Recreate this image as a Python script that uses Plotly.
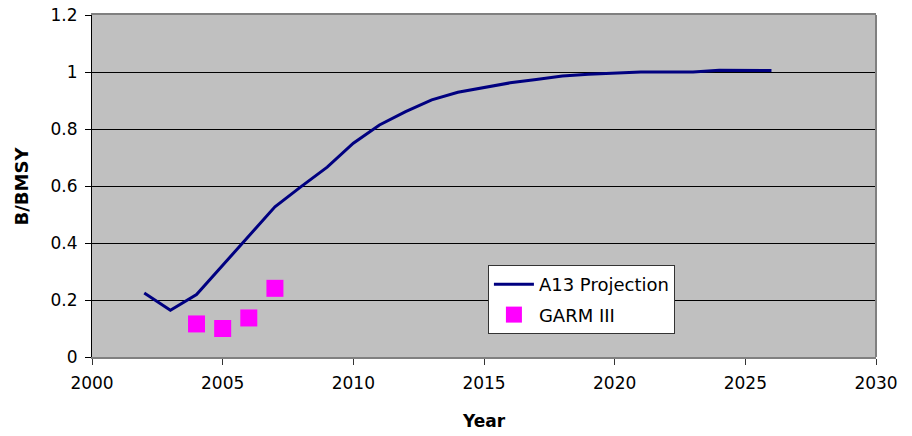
import plotly.graph_objects as go

years = list(range(2002, 2027))
a13_projection = [0.225, 0.164, 0.219, 0.321, 0.425, 0.527, 0.598, 0.666, 0.750, 0.814,
                  0.861, 0.902, 0.929, 0.946, 0.962, 0.974, 0.986, 0.992, 0.996, 1.000,
                  1.000, 1.000, 1.006, 1.006, 1.005]
garm_years = [2004, 2005, 2006, 2007]
garm_values = [0.116, 0.100, 0.137, 0.241]

FONT = "DejaVu Sans, Liberation Sans, Arial, sans-serif"

fig = go.Figure()
fig.add_trace(go.Scatter(x=years, y=a13_projection, mode="lines", name="A13 Projection",
                         legendgroup="a", line=dict(color="#000080", width=3)))
fig.add_trace(go.Scatter(x=garm_years, y=garm_values, mode="markers", name="GARM III",
                         legendgroup="b",
                         marker=dict(symbol="square", color="#FF00FF", size=17,
                                     line=dict(width=0))))

fig.update_layout(
    width=912, height=436,
    margin=dict(l=92, r=36, t=15, b=79, autoexpand=False),
    paper_bgcolor="white", plot_bgcolor="#C0C0C0",
    font=dict(family=FONT, size=17, color="black"),
    showlegend=True,
    legend=dict(x=0.505, y=0.269, xanchor="left", yanchor="top",
                bgcolor="white", bordercolor="#333333", borderwidth=1,
                font=dict(size=18), traceorder="grouped", tracegroupgap=4,
                itemwidth=40),
    xaxis=dict(range=[2000, 2030], dtick=5, tick0=2000, showgrid=False, zeroline=False,
               showline=True, linecolor="#808080", linewidth=2, mirror=True,
               ticks="outside", ticklen=6, tickcolor="#333333", automargin=False,
               ticklabelstandoff=4, tickfont=dict(size=17)),
    yaxis=dict(range=[0, 1.2], dtick=0.2, showgrid=True, gridcolor="black", gridwidth=1,
               zeroline=False, showline=True, linecolor="black", linewidth=1,
               ticks="outside", ticklen=6, tickcolor="black", automargin=False,
               ticklabelstandoff=4, tickformat="~g", tickfont=dict(size=17)),
)
fig.add_shape(type="line", xref="paper", yref="paper", x0=1, x1=1, y0=0, y1=1,
              line=dict(color="#808080", width=2))
fig.add_annotation(text="<b>Year</b>", xref="paper", yref="paper", x=0.5, y=-0.187,
                   xanchor="center", yanchor="middle", showarrow=False,
                   font=dict(size=17, family=FONT))
fig.add_annotation(text="<b>B/BMSY</b>", xref="paper", yref="paper", x=-0.09, y=0.5,
                   xanchor="center", yanchor="middle", showarrow=False, textangle=-90,
                   font=dict(size=18, family=FONT))

fig.write_html("out.html", config={"displayModeBar": False},
               post_script="document.body.style.margin='0';document.body.style.padding='0';")
